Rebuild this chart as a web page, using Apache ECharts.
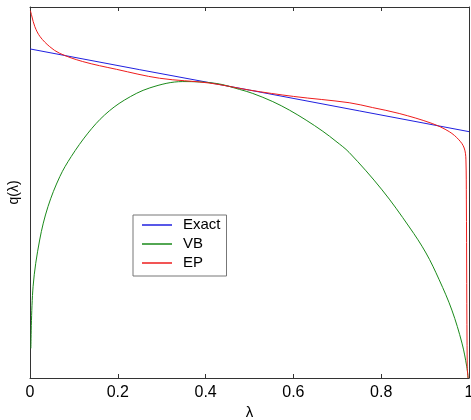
<!DOCTYPE html>
<html>
<head>
<meta charset="utf-8">
<script src="https://cdn.jsdelivr.net/npm/echarts@6/dist/echarts.min.js"></script>
<style>
html,body{margin:0;padding:0;background:#fff;}
#chart{width:471px;height:420px;}
</style>
</head>
<body>
<div id="chart"></div>
<script>
// Data
const xTicks = [0, 0.2, 0.4, 0.6, 0.8, 1];
const exactX = [0, 0.25, 0.5, 0.75, 1];
const exactY = [0.887, 0.831, 0.776, 0.720, 0.664];
const vbX = [0.002, 0.007, 0.022, 0.041, 0.068, 0.094, 0.132, 0.170, 0.215, 0.273, 0.348, 0.424, 0.477, 0.5075, 0.553, 0.591, 0.629, 0.667, 0.697, 0.727, 0.802, 0.864, 0.902, 0.932, 0.961, 0.984, 0.995, 0.998];
const vbY = [0.08, 0.246, 0.372, 0.462, 0.543, 0.597, 0.660, 0.709, 0.749, 0.782, 0.799, 0.794, 0.778, 0.767, 0.745, 0.722, 0.695, 0.665, 0.638, 0.608, 0.507, 0.407, 0.337, 0.265, 0.183, 0.094, 0.030, 0.0];
const epX = [0.001, 0.004, 0.011, 0.023, 0.045, 0.068, 0.120, 0.197, 0.295, 0.409, 0.5, 0.6, 0.727, 0.780, 0.841, 0.916, 0.955, 0.977, 0.989, 0.993, 0.994, 0.996, 0.998];
const epY = [0.99, 0.976, 0.947, 0.920, 0.893, 0.875, 0.853, 0.832, 0.808, 0.795, 0.776, 0.759, 0.742, 0.729, 0.713, 0.686, 0.664, 0.642, 0.620, 0.588, 0.48, 0.03, 0.0];

const zip = (xs, ys) => xs.map((x, i) => [x, ys[i]]);
const FONT = '"Liberation Sans", Arial, sans-serif';
const AX = '#333';

const chart = echarts.init(document.getElementById('chart'), null, {renderer: 'canvas'});
chart.setOption({
  animation: false,
  backgroundColor: '#fff',
  textStyle: {fontFamily: FONT},
  grid: {left: 30, right: 2, top: 7, bottom: 42, containLabel: false, outerBoundsMode: 'none'},
  legend: {
    orient: 'vertical',
    left: 133, top: 215,
    backgroundColor: '#fff',
    borderColor: '#777', borderWidth: 1, borderRadius: 0,
    padding: [2, 6, 5, 9],
    itemWidth: 30, itemHeight: 1.5, itemGap: 3,
    icon: 'rect',
    textStyle: {fontFamily: FONT, fontSize: 15, color: '#000', lineHeight: 16, padding: [0, 0, 0, 6]},
    data: ['Exact', 'VB', 'EP']
  },
  xAxis: [{
    type: 'value', min: 0, max: 1, interval: 0.2, position: 'bottom',
    name: 'λ', nameLocation: 'middle', nameGap: 27, nameMoveOverlap: false,
    nameTextStyle: {fontFamily: FONT, fontSize: 15, color: '#000'},
    axisLine: {show: true, onZero: false, lineStyle: {color: AX, width: 1}},
    axisTick: {show: true, inside: true, length: 4, lineStyle: {color: AX}},
    axisLabel: {show: true, margin: 7, fontSize: 16, color: '#000', fontFamily: FONT,
      formatter: v => String(xTicks.find(t => Math.abs(t - v) < 1e-9) ?? v)},
    splitLine: {show: false}
  }, {
    type: 'value', min: 0, max: 1, interval: 0.2, position: 'top',
    axisLine: {show: true, onZero: false, lineStyle: {color: AX, width: 1}},
    axisTick: {show: true, inside: true, length: 4, lineStyle: {color: AX}},
    axisLabel: {show: false},
    splitLine: {show: false}
  }],
  yAxis: [{
    type: 'value', min: 0, max: 1, position: 'left',
    name: 'q(λ)', nameLocation: 'middle', nameGap: 9, nameRotate: 90, nameMoveOverlap: false,
    nameTextStyle: {fontFamily: FONT, fontSize: 14, color: '#000'},
    axisLine: {show: true, onZero: false, lineStyle: {color: AX, width: 1}},
    axisTick: {show: false}, axisLabel: {show: false}, splitLine: {show: false}
  }, {
    type: 'value', min: 0, max: 1, position: 'right',
    axisLine: {show: true, onZero: false, lineStyle: {color: AX, width: 1}},
    axisTick: {show: false}, axisLabel: {show: false}, splitLine: {show: false}
  }],
  series: [
    {name: 'Exact', type: 'line', data: zip(exactX, exactY), symbol: 'none', color: '#2020e0',
     lineStyle: {width: 1, color: '#2020e0'}},
    {name: 'VB', type: 'line', data: zip(vbX, vbY), symbol: 'none', color: '#1a8a1a',
     smooth: 0.35, lineStyle: {width: 1, color: '#1a8a1a'}},
    {name: 'EP', type: 'line', data: zip(epX, epY), symbol: 'none', color: '#ee1c1c',
     smooth: 0.35, lineStyle: {width: 1, color: '#ee1c1c'}}
  ]
});
</script>
</body>
</html>
